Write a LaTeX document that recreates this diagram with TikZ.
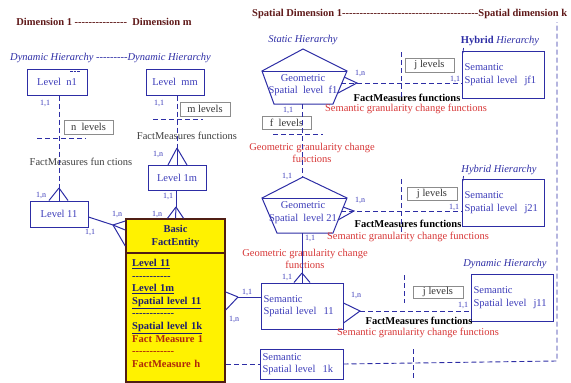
\documentclass[tikz,border=0pt]{standalone}
\usepackage{fontspec}
\setmainfont{Liberation Serif}[Ligatures=TeXOff]
\usetikzlibrary{calc}

\definecolor{lineblue}{RGB}{45,45,165}
\definecolor{textblue}{RGB}{60,60,185}
\definecolor{titlered}{RGB}{95,25,25}
\definecolor{funcred}{RGB}{215,55,55}
\definecolor{measred}{RGB}{175,40,10}
\definecolor{boxgray}{RGB}{140,140,140}
\definecolor{entbrown}{RGB}{80,30,20}
\definecolor{entblue}{RGB}{30,30,110}

\tikzset{
  lvl/.style={draw=lineblue,line width=1pt,text=textblue,minimum width=58pt,minimum height=26pt,inner sep=0pt,font=\fontsize{10.5}{12.5}\selectfont},
  sem/.style={draw=lineblue,line width=1pt,text=textblue,align=left,text width=77pt,inner xsep=2.5pt,inner ysep=0pt,font=\fontsize{10.5}{12.5}\selectfont},
  nlev/.style={draw=boxgray,line width=0.7pt,text=black!80,minimum height=14pt,inner sep=0pt,font=\fontsize{10.5}{12}\selectfont},
  card/.style={text=textblue,inner sep=0pt,font=\fontsize{8}{9}\selectfont},
  hier/.style={text=lineblue,inner sep=0pt,font=\fontsize{10.5}{12}\selectfont\itshape},
  dimtitle/.style={text=titlered,inner sep=0pt,font=\fontsize{10.5}{12}\selectfont\bfseries},
  fmbold/.style={inner sep=0pt,font=\fontsize{10.5}{12}\selectfont\bfseries},
  fmgray/.style={text=black!75,inner sep=0pt,font=\fontsize{10.5}{12}\selectfont},
  granred/.style={text=funcred,inner sep=0pt,align=center,font=\fontsize{10.5}{12}\selectfont},
  geo/.style={text=textblue,inner sep=0pt,align=center,font=\fontsize{10.5}{12.5}\selectfont},
  entity/.style={draw=entbrown,line width=1.5pt,fill=yellow,minimum width=99pt,inner sep=0pt},
  link/.style={draw=lineblue,line width=1pt},
  dlink/.style={draw=lineblue,line width=0.9pt,dash pattern=on 5pt off 3pt},
}

\begin{document}
\begin{tikzpicture}[x=1pt,y=-1pt]
  \useasboundingbox (0,0) rectangle (571,383);

  % Titles
  \node[dimtitle] (dimt) at (104,22) {Dimension 1 ---------------~~Dimension m};
  \node[dimtitle,anchor=west] (spat) at (252,14) {Spatial Dimension 1---------------------------------------Spatial dimension k};

  % Hierarchy headers
  \node[hier,anchor=west] (dynh) at (10,58) {Dynamic Hierarchy ---------Dynamic Hierarchy};
  \node[hier] (stah) at (303,40) {Static Hierarchy};
  \node[hier] (hyb1) at (500,41) {\upshape\bfseries Hybrid \mdseries\itshape Hierarchy};
  \node[hier] (hyb2) at (499,170) {Hybrid Hierarchy};
  \node[hier] (dyn3) at (505,264) {Dynamic Hierarchy};

  % Dimension levels
  \node[lvl,minimum width=60pt] (n1) at (57,82) {Level~~n1};
  \node[lvl] (mm) at (175,82) {Level~~mm};
  \node[lvl,minimum height=25pt] (l1m) at (177,178) {Level 1m};
  \node[lvl] (l11) at (59,214) {Level 11};
  \draw[lineblue,line width=1.2pt,dash pattern=on 2.5pt off 1pt] (70,71.5) -- (80,71.5);

  % Number of levels
  \node[nlev,minimum width=49pt] (nlv) at (88.5,127) {n~~levels};
  \node[nlev,minimum width=50pt] (mlv) at (205,109) {m levels};
  \node[nlev,minimum width=49pt,minimum height=13pt] (flv) at (286.5,122.5) {f~~levels};
  \node[nlev,minimum width=49pt] (jlv1) at (429.5,65) {j levels};
  \node[nlev,minimum width=50pt,minimum height=13pt] (jlv2) at (432,193.5) {j levels};
  \node[nlev,minimum width=50pt,minimum height=12pt] (jlv3) at (438,292) {j levels};

  % Basic fact entity
  \node[entity,minimum height=34pt,align=center,text=entblue,font=\fontsize{10.5}{13}\selectfont\bfseries] (fhead) at (175.5,236) {Basic\\FactEntity};
  \node[entity,minimum height=129pt] (fbody) at (175.5,317.5) {};
  \node[anchor=north west,align=left,text width=90pt,inner sep=0pt,text=entblue,font=\fontsize{10.5}{12.6}\selectfont\bfseries] (fattr) at (132,259)
    {\underline{Level 11}\\-----------\\\underline{Level 1m}\\\underline{Spatial level 11}\\------------\\\underline{Spatial level 1k}\\
     \textcolor{measred}{Fact Measure 1}\\\textcolor{measred}{------------}\\\textcolor{measred}{FactMeasure h}};

  % Geometric spatial levels
  \draw[link] (303,49) -- (347,71) -- (333,104) -- (274,104) -- (262,71) -- cycle;
  \draw[link] (262,71) -- (347,71);
  \node[geo] (gf1) at (303,85) {Geometric\\Spatial~~level~~f1};
  \draw[link] (303,177) -- (347,198) -- (333,233) -- (277,233) -- (262,198) -- cycle;
  \draw[link] (262,198) -- (347,198);
  \node[geo] (g21) at (303,212.5) {Geometric\\Spatial~~level 21};

  % Semantic spatial levels
  \node[sem,minimum height=46pt] (sem11) at (302,306) {Semantic\\Spatial level~~11};
  \node[sem,text width=78pt,minimum height=30pt] (sem1k) at (301.5,364) {Semantic\\Spatial level~~1k};
  \node[sem,minimum height=47pt] (jf1) at (503,74.5) {Semantic\\Spatial level~~jf1};
  \node[sem,minimum height=47pt] (j21) at (503,202.5) {Semantic\\Spatial level~~j21};
  \node[sem,minimum height=47pt] (j11) at (512,297.5) {Semantic\\Spatial level~~j11};
  \draw[link,line width=0.8pt] (463.5,48) -- (463,53);
  \draw[link,line width=0.8pt] (463.5,176) -- (463,181);

  % Function labels
  \node[fmgray] (fmn) at (81,162) {FactMeasures fun ctions};
  \node[fmgray] (fmm) at (187,136) {FactMeasures functions};
  \node[granred] (gg1) at (312,153) {Geometric granularity change\\functions};
  \node[granred] (gg2) at (305,259) {Geometric granularity change\\functions};
  \node[fmbold] (fb1) at (407,98) {FactMeasures functions};
  \node[granred] (sg1) at (406,109) {Semantic granularity change functions};
  \node[fmbold] (fb2) at (408,224) {FactMeasures functions};
  \node[granred] (sg2) at (408,237) {Semantic granularity change functions};
  \node[fmbold] (fb3) at (419,321) {FactMeasures functions};
  \node[granred] (sg3) at (418,333) {Semantic granularity change functions};

  % Dimension 1 connectors
  \coordinate (cfn) at (59,188);
  \draw[dlink] (cfn |- n1.south) -- (cfn);
  \foreach \dx in {-10,0,9} \draw[link] (cfn) -- ([xshift=\dx pt]l11.north);
  \draw[dlink] (37,138) -- (86,138);

  % Dimension m connectors
  \coordinate (cfm) at (177,148);
  \draw[dlink] (cfm |- mm.south) -- (cfm);
  \foreach \dx in {-9,0,10} \draw[link] (cfm) -- ([xshift=\dx pt]l1m.north);
  \draw[dlink] (153,119) -- (203,119);

  % Links to the fact entity
  \coordinate (cfe) at (176,207);
  \draw[link] (cfe |- l1m.south) -- (cfe);
  \foreach \dx in {-8,0,8} \draw[link] (cfe) -- ([xshift=\dx pt]fhead.north);
  \coordinate (cfl) at (113,225);
  \draw[link] ([yshift=-3pt]l11.east) -- (cfl);
  \foreach \dy in {15,6,-10} \draw[link] (cfl) -- ([yshift=\dy pt]fhead.west);
  \coordinate (cfs) at (238,297);
  \foreach \dy in {25.5,7.5} \draw[link] (cfs) -- ([yshift=\dy pt]fbody.east);
  \draw[link] (cfs) -- (cfs -| sem11.west);
  \draw[dlink] (sem1k.west -| fbody.east) -- (sem1k.west);

  % Spatial dimension frame
  \coordinate (frb) at (557,361);
  \coordinate (frt) at (557,22);
  \draw[dlink] (sem1k.east) -- (frb) -- (frt);

  % Geometric hierarchy
  \coordinate (f1b) at (302,104);
  \coordinate (p21t) at (302,177);
  \coordinate (p21b) at (302,233);
  \coordinate (cfg) at (302,273);
  \draw[dlink] (f1b) -- (p21t);
  \draw[dlink] (273,134) -- (323,134);
  \draw[link] (p21b) -- (cfg);
  \foreach \dx in {-8,0,8} \draw[link] (cfg) -- ([xshift=\dx pt]sem11.north);

  % Semantic links
  \coordinate (cff) at (357,83);
  \coordinate (f1e1) at (344,77);
  \coordinate (f1e2) at (338,93);
  \draw[link] (f1e1) -- (cff) -- (f1e2);
  \draw[dlink] (341,83) -- (cff -| jf1.west);
  \coordinate (cfp) at (354,211);
  \coordinate (p2e1) at (343,207);
  \coordinate (p2e2) at (338,220);
  \draw[link] (p2e1) -- (cfp) -- (p2e2);
  \draw[dlink] (341,211) -- (cfp -| j21.west);
  \coordinate (cfj) at (360,311);
  \draw[link] ([yshift=3pt]sem11.east) -- (cfj) -- ([yshift=-17pt]sem11.east);
  \draw[dlink] (cfj) -- (cfj -| j11.west);

  % Level separators
  \draw[dlink] (401,52) -- (401,100);
  \draw[dlink] (401,179) -- (401,233);
  \draw[dlink] (404,275) -- (404,303);
  \draw[dlink] (413,349) -- (413,378);

  % Cardinalities
  \foreach \x/\y [count=\i] in {45/103,159/103,168/196,90/232,247/292,287/277,463/305,455/79,288/110,287/176,454/207,310/238}
    \node[card] (one\i) at (\x,\y) {1,1};
  \foreach \x/\y [count=\i] in {41/195,158/154,157/214,117/214,234/319,356/295,360/73,360/200}
    \node[card] (many\i) at (\x,\y) {1,n};
\end{tikzpicture}
\end{document}
